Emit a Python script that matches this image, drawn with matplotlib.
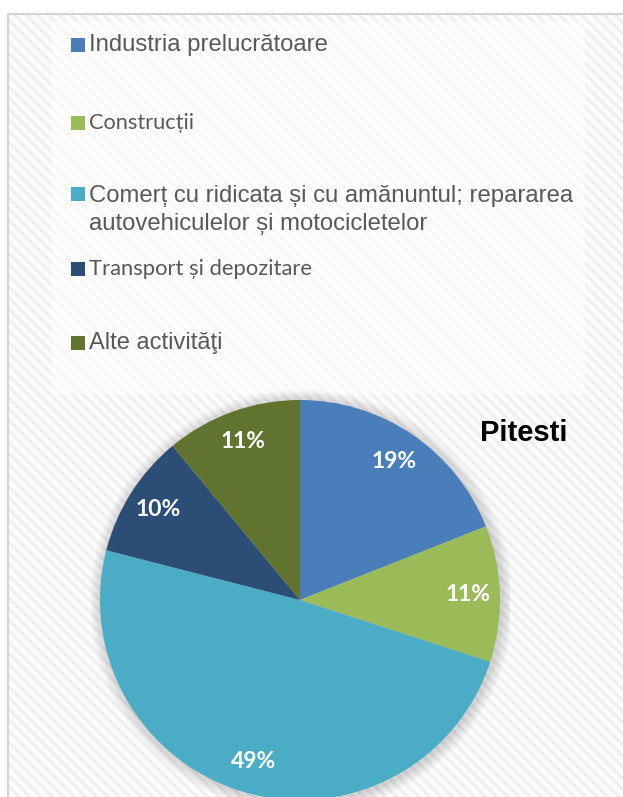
import matplotlib
matplotlib.use("Agg")
import matplotlib.pyplot as plt
from matplotlib.patches import Rectangle, Circle
from matplotlib.lines import Line2D

plt.rcParams["hatch.linewidth"] = 2.4

# Sector shares of Pitesti
categories = [
    "Industria prelucrătoare",
    "Construcții",
    "Comerț cu ridicata și cu amănuntul; repararea\nautovehiculelor și motocicletelor",
    "Transport și depozitare",
    "Alte activităţi",
]
shares = [19, 11, 49, 10, 11]
colors = ["#4A7EBB", "#9BBB59", "#4BACC6", "#2C4D75", "#60742F"]
label_fonts = ["Liberation Sans", "Lato", "Liberation Sans", "Lato", "Liberation Sans"]
label_sizes = [17.2, 15.7, 17.2, 15.8, 17.0]
title = "Pitesti"

W, H = 623, 797
fig = plt.figure(figsize=(W / 100, H / 100), dpi=100)
fig.patch.set_facecolor("white")

def fx(px):
    return px / W

def fy(py):
    return 1 - py / H

# striped chart background, framed on the left and top
fig.patches.append(Rectangle((fx(8), 0), 1 - fx(8), fy(14), transform=fig.transFigure,
                             facecolor="#fcfcfc", edgecolor="#f0f0f0", lw=0,
                             hatch="\\\\\\", zorder=-3))
fig.lines.append(Line2D([fx(8), fx(8), 1], [0, fy(14), fy(14)],
                        transform=fig.transFigure, color="#d4d4d4", lw=1.5, zorder=-1))

# lighter legend panel
fig.patches.append(Rectangle((fx(52), fy(394)), fx(585 - 52), (394 - 22) / H,
                             transform=fig.transFigure, facecolor="white",
                             alpha=0.6, edgecolor="none", zorder=-2))

# legend entries
entry_y = [45, 123, 194, 269, 343]
for name, col, fam, size, y in zip(categories, colors, label_fonts, label_sizes, entry_y):
    fig.patches.append(Rectangle((fx(71), fy(y + 7)), fx(14), 14 / H,
                                 transform=fig.transFigure, facecolor=col,
                                 edgecolor="none", zorder=3))
    multi = "\n" in name
    fig.text(fx(89), fy(y - 9) if multi else fy(y), name, family=fam, fontsize=size,
             color="#595959", va="top" if multi else "center", ha="left",
             zorder=3, linespacing=1.34)

# pie
cx, cy, r = 300, 600, 200
pad = 1.05
ax = fig.add_axes([fx(cx - r * pad), fy(cy + r * pad), 2 * pad * r / W, 2 * pad * r / H])
ax.set_zorder(1)
ax.axis("off")

# soft shadow around the pie
for i in range(10):
    ax.add_patch(Circle((0.008, -0.008), 1.0 + 0.006 * (i + 1), facecolor="#000000",
                        alpha=0.016, edgecolor="none", zorder=0))

wedges, texts, autotexts = ax.pie(
    shares, colors=colors, startangle=90, counterclock=False,
    autopct=lambda p: f"{p:.0f}%", pctdistance=0.84, radius=1.0,
    wedgeprops=dict(edgecolor="none", zorder=2),
    textprops=dict(color="white", fontsize=16.5, fontweight="bold", family="Lato"),
)
ax.set_xlim(-pad, pad)
ax.set_ylim(-pad, pad)
ax.set_aspect("equal")

fig.text(fx(480), fy(433), title, family="Liberation Sans", fontsize=21,
         fontweight="bold", color="black", va="center", ha="left", zorder=3)

fig.savefig("out.png", dpi=100, facecolor="white")
